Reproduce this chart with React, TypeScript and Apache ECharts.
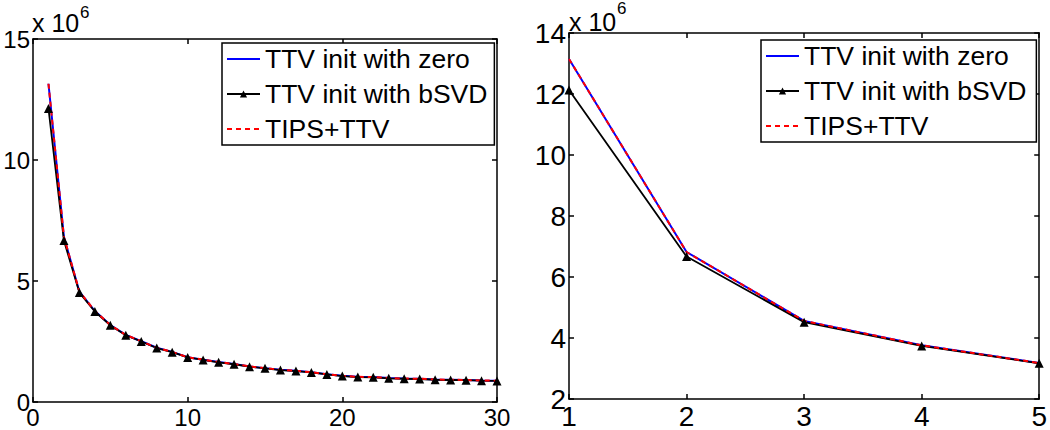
import React, { useEffect, useRef } from "react";
import * as echarts from "echarts";

// Iterations (x axis)
const iterations = Array.from({ length: 30 }, (_, i) => i + 1);
const zoomIterations = [1, 2, 3, 4, 5];

// Objective values (x 10^6)
const ttvZero = [13.15, 6.82, 4.56, 3.76, 3.18, 2.77, 2.51, 2.24, 2.07, 1.85, 1.75, 1.65, 1.57, 1.47, 1.4, 1.33, 1.29, 1.23, 1.15, 1.08, 1.04, 1.03, 0.99, 0.97, 0.96, 0.93, 0.92, 0.91, 0.89, 0.88];
const ttvBsvd = [12.13, 6.67, 4.52, 3.74, 3.17, 2.76, 2.5, 2.23, 2.06, 1.84, 1.74, 1.64, 1.56, 1.46, 1.39, 1.32, 1.28, 1.22, 1.14, 1.07, 1.03, 1.02, 0.98, 0.96, 0.95, 0.92, 0.91, 0.9, 0.88, 0.87];
const tipsTtv = [13.15, 6.82, 4.56, 3.76, 3.18, 2.77, 2.51, 2.24, 2.07, 1.85, 1.75, 1.65, 1.57, 1.47, 1.4, 1.33, 1.29, 1.23, 1.15, 1.08, 1.04, 1.03, 0.99, 0.97, 0.96, 0.93, 0.92, 0.91, 0.89, 0.88];

const seriesNames = ["TTV init with zero", "TTV init with bSVD", "TIPS+TTV"];
const leftXTicks = { min: 0, max: 30, interval: 10 };
const leftYTicks = { min: 0, max: 15, interval: 5 };
const rightXTicks = { min: 1, max: 5, interval: 1 };
const rightYTicks = { min: 2, max: 14, interval: 2 };
const exponentLabel = "x 10";
const exponentPower = "6";

const FONT = "Liberation Sans, Arial, Helvetica, sans-serif";

function pairs(xs: number[], ys: number[]) {
  return xs.map((x, i) => [x, ys[i]]);
}

function axisPair(kind: "x" | "y", gridIndex: number, ticks: any, fontSize: number) {
  const line = { show: true, onZero: false, lineStyle: { color: "#000", width: 1.5 } };
  const tick = { show: true, inside: true, length: 5, lineStyle: { color: "#000", width: 1.5 } };
  const main = {
    type: "value",
    gridIndex,
    position: kind === "x" ? "bottom" : "left",
    min: ticks.min,
    max: ticks.max,
    interval: ticks.interval,
    axisLine: line,
    axisTick: tick,
    splitLine: { show: false },
    axisLabel: {
      show: true,
      color: "#000",
      fontSize,
      fontFamily: FONT,
      margin: 3,
    },
  };
  const mirror = {
    type: "value",
    gridIndex,
    position: kind === "x" ? "top" : "right",
    min: ticks.min,
    max: ticks.max,
    interval: ticks.interval,
    axisLine: line,
    axisTick: tick,
    splitLine: { show: false },
    axisLabel: { show: false },
  };
  return [main, mirror];
}

function makeSeries(xs: number[], n: number, xAxisIndex: number, yAxisIndex: number) {
  return [
    {
      name: seriesNames[0],
      type: "line",
      xAxisIndex,
      yAxisIndex,
      data: pairs(xs, ttvZero.slice(0, n)),
      symbol: "none",
      lineStyle: { color: "#0000ff", width: 2 },
      itemStyle: { color: "#0000ff" },
    },
    {
      name: seriesNames[1],
      type: "line",
      xAxisIndex,
      yAxisIndex,
      data: pairs(xs, ttvBsvd.slice(0, n)),
      symbol: "triangle",
      symbolSize: 9,
      lineStyle: { color: "#000", width: 1.8 },
      itemStyle: { color: "#000" },
    },
    {
      name: seriesNames[2],
      type: "line",
      xAxisIndex,
      yAxisIndex,
      data: pairs(xs, tipsTtv.slice(0, n)),
      symbol: "none",
      lineStyle: { color: "#ff0000", width: 2, type: [5, 4] },
      itemStyle: { color: "#ff0000" },
    },
  ];
}

function makeLegend(left: number, top: number, padRight: number) {
  return {
    show: true,
    orient: "vertical",
    left,
    top,
    data: [
      { name: seriesNames[0], itemStyle: { opacity: 0 } },
      { name: seriesNames[1] },
      { name: seriesNames[2], itemStyle: { opacity: 0 } },
    ],
    itemWidth: 33,
    itemHeight: 9,
    itemGap: 5,
    padding: [1, padRight, 1, 4],
    borderColor: "#000",
    borderWidth: 1.5,
    backgroundColor: "#fff",
    selectedMode: false,
    textStyle: { color: "#000", fontSize: 26.5, fontFamily: FONT, lineHeight: 30 },
  };
}

export default function App() {
  const ref = useRef<HTMLDivElement>(null);

  useEffect(() => {
    if (!ref.current) return;
    const chart = echarts.init(ref.current, null, { renderer: "svg" });
    const [lx, lxTop] = axisPair("x", 0, leftXTicks, 24);
    const [ly, lyRight] = axisPair("y", 0, leftYTicks, 24);
    const [rx, rxTop] = axisPair("x", 1, rightXTicks, 28);
    const [ry, ryRight] = axisPair("y", 1, rightYTicks, 28);

    chart.setOption({
      animation: false,
      backgroundColor: "#fff",
      grid: [
        { left: 33, top: 39, width: 464, height: 363, containLabel: false },
        { left: 569, top: 33, width: 471, height: 372, containLabel: false },
      ],
      xAxis: [lx, lxTop, rx, rxTop],
      yAxis: [ly, lyRight, ry, ryRight],
      legend: [makeLegend(222, 43, 7), makeLegend(761, 40, 10)],
      series: [
        ...makeSeries(iterations, 30, 0, 0),
        ...makeSeries(zoomIterations, 5, 2, 2),
      ],
      graphic: [
        { type: "text", left: 32, top: 10, style: { text: exponentLabel, fontSize: 25, fontFamily: FONT, fill: "#000" } },
        { type: "text", left: 80, top: 4, style: { text: exponentPower, fontSize: 17, fontFamily: FONT, fill: "#000" } },
        { type: "text", left: 569, top: 9, style: { text: exponentLabel, fontSize: 25, fontFamily: FONT, fill: "#000" } },
        { type: "text", left: 617, top: 0, style: { text: exponentPower, fontSize: 17, fontFamily: FONT, fill: "#000" } },
      ],
    });
    return () => chart.dispose();
  }, []);

  return (
    <div
      ref={ref}
      style={{ position: "absolute", left: 0, top: 0, width: 1050, height: 430 }}
    />
  );
}
